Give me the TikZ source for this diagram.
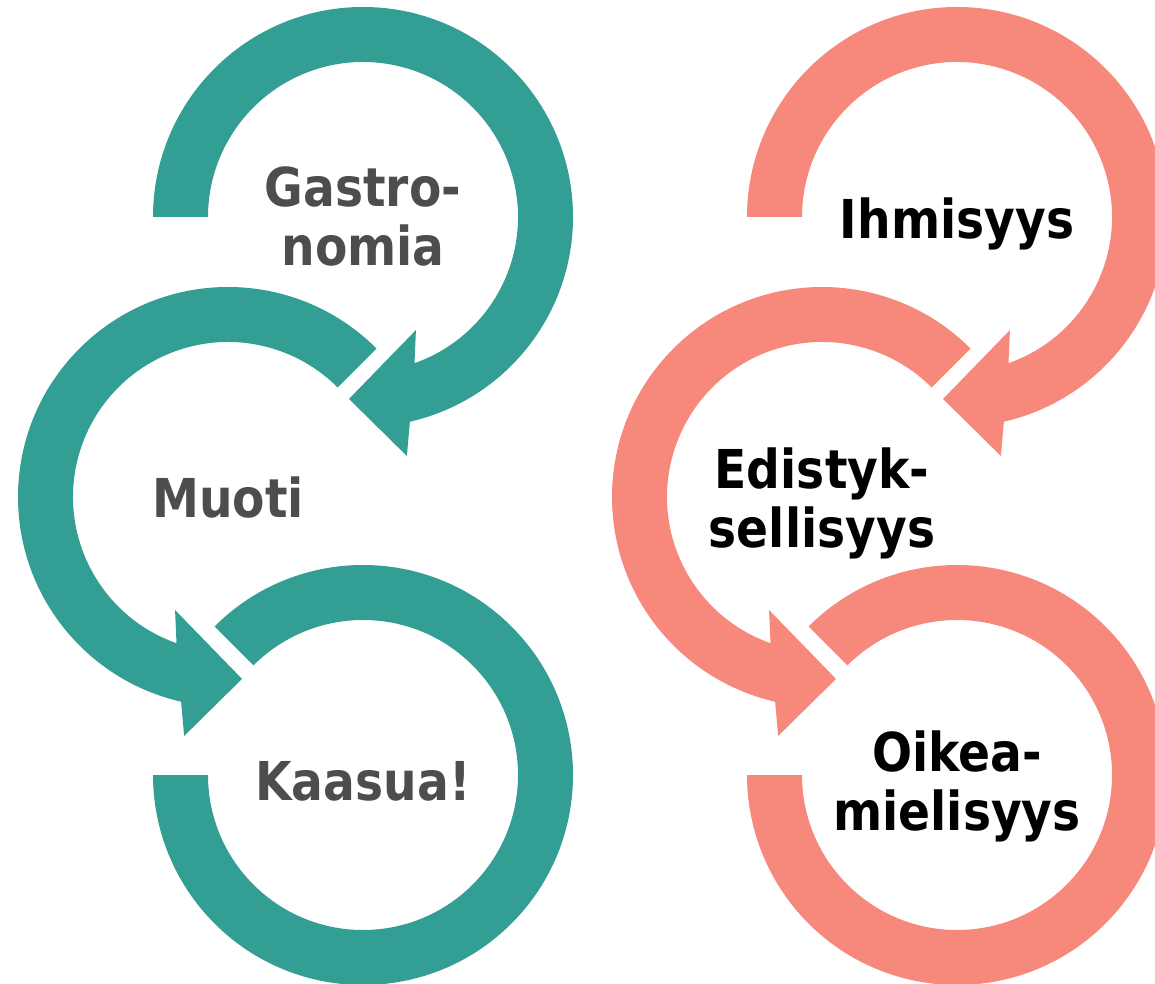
\documentclass[tikz,border=0pt]{standalone}
\usepackage{fontspec}
\newfontfamily\labelfamily[FakeStretch=0.88]{DejaVu Sans}
\usepackage{tikz}

\definecolor{ringteal}{HTML}{339E93}
\definecolor{ringsalmon}{HTML}{F6887C}
\definecolor{textgray}{HTML}{4D4D4D}
\newcommand{\lblfont}{\labelfamily\bfseries\fontsize{53.6pt}{57pt}\selectfont}

\begin{document}
\begin{tikzpicture}[
    x=1pt, y=1pt,
    % define styles
    ring/.style={
        fill=#1,
        draw=none
    },
    lbl/.style={
        font=\lblfont,
        align=center,
        inner sep=0pt,
        text=#1
    }
]
\clip (0,0) rectangle (1155,983);

% three circular arrows in each column
\foreach \dx/\col in {0/ringteal, 594/ringsalmon} {
\begin{scope}[xshift=\dx]
    % top ring, clockwise, head at lower right
    \fill[ring=\col, shift={(363,766)}]
        (180:210) arc[start angle=180, end angle=-77.1, radius=210]
        -- (-79.6:243) -- (-94.4:182.5) -- (-64.9:124.8)
        -- (-70.6:155) arc[start angle=-70.6, end angle=180, radius=155]
        -- cycle;
    % middle ring, counter clockwise, head at lower right
    \fill[ring=\col, shift={(228,486)}]
        (45:210) arc[start angle=45, end angle=257.1, radius=210]
        -- (259.6:243) -- (274.4:182.5) -- (244.9:124.8)
        -- (250.6:155) arc[start angle=250.6, end angle=45, radius=155]
        -- cycle;
    % bottom ring, clockwise, flat end at left
    \fill[ring=\col, shift={(363,208)}]
        (135:210) arc[start angle=135, end angle=-180, radius=210]
        -- (-180:155) arc[start angle=-180, end angle=135, radius=155]
        -- cycle;
\end{scope}
}

% labels in the rings
\node[lbl=textgray] (gastro) at (363,758) {\strut Gastro-\\\strut nomia};
\node[lbl=textgray] (muoti) at (228,477) {\strut Muoti};
\node[lbl=textgray] (kaasua) at (363,194) {\strut Kaasua!};

\node[lbl=black] (ihmisyys) at (957,756) {\strut Ihmisyys};
\node[lbl=black] (edistys) at (822,477) {\strut Edistyk-\\\strut sellisyys};
\node[lbl=black] (oikea) at (957,194) {\strut Oikea-\\\strut mielisyys};
\end{tikzpicture}
\end{document}
